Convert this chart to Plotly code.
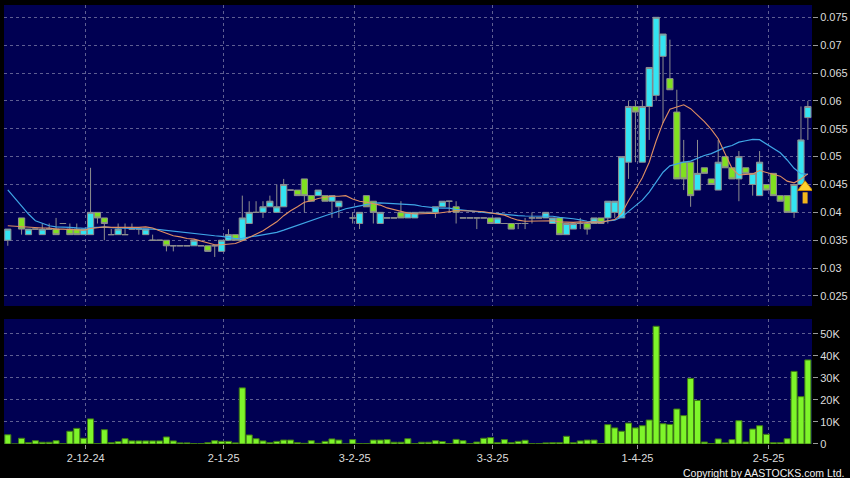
import numpy as np
import pandas as pd
import plotly.graph_objects as go

# ---------------- data ----------------
hk_holidays = ["2024-12-25", "2024-12-26", "2025-01-01", "2025-01-29", "2025-01-30",
               "2025-01-31", "2025-04-04", "2025-04-18", "2025-04-21", "2025-05-01", "2025-05-05"]
dates = pd.bdate_range("2024-11-15", "2025-05-13", freq="C", holidays=hk_holidays)

tick_dates = ["2024-12-02", "2025-01-02", "2025-02-03", "2025-03-03", "2025-04-01", "2025-05-02"]
tick_labels = ["2-12-24", "2-1-25", "3-2-25", "3-3-25", "1-4-25", "2-5-25"]

N_ = None
open_ = [.035, N_, .039, .036, .037, .036, .037, .037, .038, .037,
         .037, .036, .036, .040, .039, .036, .036, .036, .037, .037,
         .036, .035, .035, .035, .034, .034, .034, .034, .034, .034,
         .034, .033, .035, .036, .035, .038, .040, .040, .041, .040,
         .041, .044, .044, .046, .043, .043, .043, .042, .041, N_,
         .039, .038, .043, .042, .038, .039, .039, .040, .039, .039,
         .040, .040, .040, .041, .042, .041, .039, .039, .039, .039,
         .039, .038, .038, .038, .038, .038, .039, .039, .039, .038,
         .039, .036, .037, .038, .038, .038, .039, .039, .040, .039,
         .049, .059, .049, .059, .061, .068, .064, .058, .049, .049,
         .044, .048, .046, .044, .050, .048, .046, .048, .045, .043,
         .045, .047, .043, .043, .040, .045, .057]
high = [.037, N_, .039, .037, .037, .038, .038, .039, .038, .038,
        .038, .037, .048, .040, .039, .037, .038, .038, .038, .037,
        .037, .036, .035, .035, .034, .034, .034, .035, .034, .034,
        .034, .035, .037, .036, .043, .042, .042, .042, .043, .045,
        .046, .044, .044, .046, .043, .044, .043, .043, .042, N_,
        .040, .040, .043, .042, .040, .039, .039, .042, .040, .040,
        .040, .040, .041, .042, .042, .042, .039, .039, .039, .039,
        .039, .039, .038, .038, .038, .039, .040, .039, .040, .039,
        .039, .038, .038, .039, .038, .039, .039, .042, .042, .050,
        .060, .060, .060, .066, .075, .072, .071, .062, .053, .049,
        .053, .048, .046, .053, .050, .048, .051, .048, .047, .051,
        .045, .047, .043, .043, .045, .059, .060]
low = [.034, N_, .036, .036, .037, .036, .037, .036, .038, .036,
       .036, .036, .036, .038, .035, .036, .036, .036, .037, .036,
       .036, .035, .035, .033, .033, .034, .034, .034, .034, .033,
       .032, .033, .035, .035, .035, .038, .040, .039, .041, .040,
       .041, .044, .043, .040, .042, .043, .042, .039, .039, N_,
       .038, .037, .041, .038, .038, .039, .039, .039, .039, .039,
       .040, .040, .039, .041, .040, .038, .039, .039, .037, .039,
       .038, .038, .038, .037, .037, .037, .038, .039, .039, .038,
       .036, .036, .037, .037, .036, .038, .038, .038, .039, .039,
       .046, .049, .049, .053, .060, .056, .062, .046, .044, .041,
       .044, .047, .045, .044, .048, .046, .042, .047, .043, .043,
       .044, .043, .042, .040, .039, .045, .053]
close = [.037, N_, .037, .037, .037, .037, .037, .036, .038, .036,
         .036, .037, .040, .039, .038, .036, .037, .036, .037, .037,
         .037, .035, .035, .034, .034, .034, .034, .035, .034, .033,
         .034, .035, .036, .035, .039, .040, .040, .041, .042, .041,
         .045, .044, .043, .043, .042, .044, .042, .043, .042, N_,
         .039, .040, .041, .040, .040, .039, .039, .039, .040, .040,
         .040, .040, .041, .042, .042, .040, .039, .039, .039, .039,
         .038, .039, .038, .037, .038, .038, .039, .039, .040, .039,
         .036, .038, .038, .038, .037, .039, .038, .042, .042, .050,
         .059, .058, .059, .066, .075, .072, .062, .046, .046, .043,
         .047, .047, .045, .049, .048, .046, .050, .047, .047, .049,
         .044, .043, .042, .040, .045, .053, .059]
# volume, thousands of shares
volume_k = [4.2, 0, 2.6, 0.6, 1.5, 0.8, 0.8, 1.5, 0.1, 5.8,
            7.1, 2.6, 11.4, 0.2, 6.5, 0.6, 1.1, 2.4, 1.4, 1.4,
            1.4, 1.4, 1.4, 3.2, 1.4, 0.5, 0.5, 0.2, 0.2, 0.6,
            1.5, 1.2, 1.2, 0.5, 25.5, 4.1, 2.4, 1.4, 0.6, 1.2,
            1.8, 1.8, 0.6, 0.3, 1.5, 0.3, 1.2, 2.3, 1.8, 0,
            2.0, 0.2, 0.2, 1.8, 1.8, 2.0, 0.8, 0.8, 2.4, 0.2,
            0.8, 0.8, 1.5, 1.1, 0.2, 2.1, 1.5, 0.2, 0.9, 2.6,
            2.9, 0.6, 2.0, 0.6, 1.2, 1.7, 0.15, 0.2, 0.5, 0.6,
            0.6, 3.5, 0.6, 1.4, 1.8, 1.8, 0.2, 8.8, 7.3, 5.8,
            9.5, 7.3, 8.3, 10.9, 53.5, 9.2, 8.9, 15.9, 12.9, 29.8,
            19.8, 0.9, 0.2, 2.3, 0.5, 2.0, 10.6, 0.9, 6.8, 8.3,
            4.4, 0.6, 0.6, 2.4, 33.0, 21.5, 38.2]
# closes before the visible window (seed the moving averages at the left edge)
pre_window_closes = [.066, .066, .066, .061, .046, .046, .040, .038, .038, .038,
                     .038, .038, .037, .038, .038, .037, .038, .038, .037]
signal_day = "2025-05-12"

price_ticks = [0.025, 0.03, 0.035, 0.04, 0.045, 0.05, 0.055, 0.06, 0.065, 0.07, 0.075]
price_tick_text = ["0.025", "0.03", "0.035", "0.04", "0.045", "0.05", "0.055", "0.06", "0.065", "0.07", "0.075"]
vol_ticks = [0, 10000, 20000, 30000, 40000, 50000]
vol_tick_text = ["0", "10K", "20K", "30K", "40K", "50K"]

# ---------------- build ----------------
N = len(dates)
assert N == len(open_) == len(high) == len(low) == len(close) == len(volume_k)
idx = np.arange(N)
df = pd.DataFrame({"o": open_, "h": high, "l": low, "c": close, "v": volume_k}, index=idx, dtype=float)

closes_ff = pd.Series(pre_window_closes + list(df["c"].ffill()))
ma10 = closes_ff.rolling(10).mean().iloc[len(pre_window_closes):].to_numpy()
ma20 = closes_ff.rolling(20).mean().iloc[len(pre_window_closes):].to_numpy()

traded = df.dropna(subset=["o"])
up = traded[traded.c > traded.o]
dn = traded[traded.c < traded.o]
flat = traded[traded.c == traded.o]

WICK = "#8e8e8e"
CYAN = "#33e4f2"
GREEN = "#80e020"

fig = go.Figure()

def candles(d, fill):
    return go.Candlestick(
        x=d.index, open=d.o, high=d.h, low=d.l, close=d.c,
        increasing=dict(line=dict(color=WICK, width=1), fillcolor=fill),
        decreasing=dict(line=dict(color=WICK, width=1), fillcolor=fill),
        hoverinfo="skip", xaxis="x", yaxis="y", showlegend=False)

fig.add_trace(candles(flat, WICK))
fig.add_trace(candles(dn, GREEN))
fig.add_trace(candles(up, CYAN))

fig.add_trace(go.Scatter(x=idx, y=ma20, mode="lines", line=dict(color="#3fa6e6", width=1.2),
                         hoverinfo="skip", xaxis="x", yaxis="y"))
fig.add_trace(go.Scatter(x=idx, y=ma10, mode="lines", line=dict(color="#e08f62", width=1.1),
                         hoverinfo="skip", xaxis="x", yaxis="y"))

# buy-signal arrow
si = dates.get_loc(pd.Timestamp(signal_day))
sx = si + 0.6
fig.add_trace(go.Scatter(x=[sx], y=[0.0426], mode="markers",
                         marker=dict(symbol="line-ns", size=8, line=dict(color="#f2b51c", width=5)),
                         hoverinfo="skip", xaxis="x", yaxis="y"))
fig.add_trace(go.Scatter(x=[sx], y=[0.0445], mode="markers",
                         marker=dict(symbol="triangle-up", size=13, color="#ffd22e",
                                     line=dict(color="#c98a00", width=1)),
                         hoverinfo="skip", xaxis="x", yaxis="y"))

fig.add_trace(go.Bar(x=idx, y=df["v"] * 1000, marker=dict(color="#7ef52a", line=dict(color="#3f7a14", width=1)),
                     hoverinfo="skip", xaxis="x2", yaxis="y2"))

tick_pos = [dates.get_loc(pd.Timestamp(d)) + 0.3 for d in tick_dates]
xr = [-0.55, N - 0.4]
GRID = "#5e5e92"
FONT = dict(family="Liberation Sans, Arial, sans-serif", size=11, color="#dcdcdc")

common_x = dict(range=xr, tickvals=tick_pos, showgrid=True, gridcolor=GRID, griddash="3px,3px",
                gridwidth=1, zeroline=False, showline=False, rangeslider=dict(visible=False), fixedrange=True)
fig.update_layout(
    width=850, height=478,
    margin=dict(l=4, r=38, t=5, b=34, autoexpand=False),
    paper_bgcolor="black", plot_bgcolor="#000052",
    showlegend=False, boxgap=0.1, boxgroupgap=0, bargap=0.12,
    font=FONT,
    xaxis=dict(common_x, anchor="y", showticklabels=False, ticks=""),
    xaxis2=dict(common_x, anchor="y2", ticktext=tick_labels, ticks="outside", ticklen=4,
                tickcolor="#9a9a9a", tickfont=FONT),
    yaxis=dict(domain=[0.3144, 1], side="right", range=[0.0232, 0.07721], tickvals=price_ticks,
               ticktext=price_tick_text, showgrid=True, gridcolor=GRID, griddash="3px,3px",
               zeroline=False, ticks="outside", ticklen=5, tickcolor="#9a9a9a", tickfont=FONT, fixedrange=True),
    yaxis2=dict(domain=[0, 0.2847], side="right", range=[0, 56800], tickvals=vol_ticks,
                ticktext=vol_tick_text, showgrid=True, gridcolor=GRID, griddash="3px,3px",
                zeroline=False, ticks="outside", ticklen=5, tickcolor="#9a9a9a", tickfont=FONT, fixedrange=True),
    annotations=[dict(text="Copyright by AASTOCKS.com Ltd.", xref="paper", yref="paper",
                      x=1.0, y=0, xanchor="right", yanchor="top", yshift=-21, xshift=34,
                      showarrow=False, font=dict(family="Liberation Sans, Arial, sans-serif",
                                                 size=10.5, color="#f0f0f0"))],
)

fig.write_html("out.html", config={"displayModeBar": False, "staticPlot": True})
# remove the browser's default page margin so the 850x478 figure fills the window
with open("out.html", encoding="utf-8") as f:
    html = f.read()
html = html.replace("<body>", '<body style="margin:0;padding:0;overflow:hidden;background:black">', 1)
with open("out.html", "w", encoding="utf-8") as f:
    f.write(html)
